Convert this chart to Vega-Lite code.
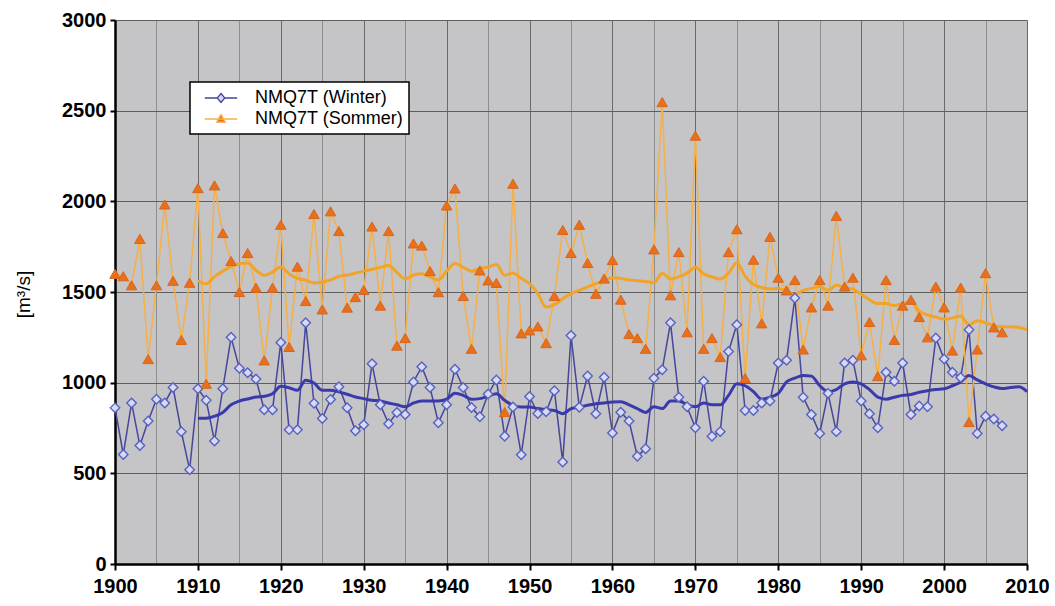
{
"$schema": "https://vega.github.io/schema/vega-lite/v6.json",
"width": 912, "height": 544,
"autosize": {"type": "none"},
"padding": {"left": 115, "top": 20, "right": 28, "bottom": 42},
"background": "white",
"config": {"view": {"fill": "#c5c4c7", "stroke": null}, "font": "Liberation Sans"},
"datasets": {
"obs": [
{"year":1900,"winter":861,"sommer":1600},{"year":1901,"winter":604,"sommer":1587},{"year":1902,"winter":888,"sommer":1537},{"year":1903,"winter":653,"sommer":1793},{"year":1904,"winter":789,"sommer":1130},{"year":1905,"winter":909,"sommer":1537},{"year":1906,"winter":888,"sommer":1983},{"year":1907,"winter":973,"sommer":1562},{"year":1908,"winter":730,"sommer":1236},{"year":1909,"winter":520,"sommer":1551},
{"year":1910,"winter":966,"sommer":2073},{"year":1911,"winter":903,"sommer":994},{"year":1912,"winter":678,"sommer":2088},{"year":1913,"winter":966,"sommer":1825},{"year":1914,"winter":1250,"sommer":1671},{"year":1915,"winter":1080,"sommer":1500},{"year":1916,"winter":1055,"sommer":1715},{"year":1917,"winter":1020,"sommer":1524},{"year":1918,"winter":851,"sommer":1123},{"year":1919,"winter":851,"sommer":1524},
{"year":1920,"winter":1222,"sommer":1871},{"year":1921,"winter":741,"sommer":1197},{"year":1922,"winter":741,"sommer":1640},{"year":1923,"winter":1330,"sommer":1450},{"year":1924,"winter":886,"sommer":1930},{"year":1925,"winter":802,"sommer":1404},{"year":1926,"winter":907,"sommer":1945},{"year":1927,"winter":978,"sommer":1836},{"year":1928,"winter":862,"sommer":1414},{"year":1929,"winter":735,"sommer":1472},
{"year":1930,"winter":768,"sommer":1511},{"year":1931,"winter":1104,"sommer":1861},{"year":1932,"winter":878,"sommer":1425},{"year":1933,"winter":773,"sommer":1836},{"year":1934,"winter":836,"sommer":1204},{"year":1935,"winter":825,"sommer":1246},{"year":1936,"winter":1004,"sommer":1768},{"year":1937,"winter":1088,"sommer":1756},{"year":1938,"winter":973,"sommer":1615},{"year":1939,"winter":779,"sommer":1499},
{"year":1940,"winter":878,"sommer":1977},{"year":1941,"winter":1074,"sommer":2071},{"year":1942,"winter":973,"sommer":1478},{"year":1943,"winter":863,"sommer":1187},{"year":1944,"winter":812,"sommer":1619},{"year":1945,"winter":937,"sommer":1564},{"year":1946,"winter":1015,"sommer":1550},{"year":1947,"winter":705,"sommer":838},{"year":1948,"winter":866,"sommer":2097},{"year":1949,"winter":603,"sommer":1272},
{"year":1950,"winter":924,"sommer":1288},{"year":1951,"winter":830,"sommer":1310},{"year":1952,"winter":840,"sommer":1218},{"year":1953,"winter":956,"sommer":1478},{"year":1954,"winter":562,"sommer":1842},{"year":1955,"winter":1260,"sommer":1715},{"year":1956,"winter":864,"sommer":1871},{"year":1957,"winter":1037,"sommer":1660},{"year":1958,"winter":829,"sommer":1490},{"year":1959,"winter":1030,"sommer":1574},
{"year":1960,"winter":723,"sommer":1676},{"year":1961,"winter":837,"sommer":1458},{"year":1962,"winter":789,"sommer":1268},{"year":1963,"winter":594,"sommer":1246},{"year":1964,"winter":636,"sommer":1187},{"year":1965,"winter":1025,"sommer":1735},{"year":1966,"winter":1071,"sommer":2547},{"year":1967,"winter":1330,"sommer":1482},{"year":1968,"winter":920,"sommer":1720},{"year":1969,"winter":867,"sommer":1278},
{"year":1970,"winter":751,"sommer":2362},{"year":1971,"winter":1008,"sommer":1187},{"year":1972,"winter":705,"sommer":1246},{"year":1973,"winter":730,"sommer":1141},{"year":1974,"winter":1172,"sommer":1720},{"year":1975,"winter":1320,"sommer":1846},{"year":1976,"winter":846,"sommer":1025},{"year":1977,"winter":846,"sommer":1678},{"year":1978,"winter":888,"sommer":1327},{"year":1979,"winter":899,"sommer":1804},
{"year":1980,"winter":1109,"sommer":1579},{"year":1981,"winter":1124,"sommer":1509},{"year":1982,"winter":1467,"sommer":1566},{"year":1983,"winter":920,"sommer":1183},{"year":1984,"winter":825,"sommer":1415},{"year":1985,"winter":720,"sommer":1566},{"year":1986,"winter":941,"sommer":1425},{"year":1987,"winter":730,"sommer":1920},{"year":1988,"winter":1109,"sommer":1530},{"year":1989,"winter":1124,"sommer":1579},
{"year":1990,"winter":899,"sommer":1151},{"year":1991,"winter":829,"sommer":1335},{"year":1992,"winter":751,"sommer":1036},{"year":1993,"winter":1057,"sommer":1566},{"year":1994,"winter":1008,"sommer":1236},{"year":1995,"winter":1109,"sommer":1425},{"year":1996,"winter":825,"sommer":1457},{"year":1997,"winter":871,"sommer":1362},{"year":1998,"winter":867,"sommer":1250},{"year":1999,"winter":1246,"sommer":1530},
{"year":2000,"winter":1130,"sommer":1415},{"year":2001,"winter":1057,"sommer":1177},{"year":2002,"winter":1029,"sommer":1524},{"year":2003,"winter":1292,"sommer":783},{"year":2004,"winter":720,"sommer":1183},{"year":2005,"winter":815,"sommer":1604},{"year":2006,"winter":800,"sommer":1305},{"year":2007,"winter":762,"sommer":1278}
],
"trend": [
{"year":1910,"winter":804,"sommer":1562},{"year":1911,"winter":804,"sommer":1545},{"year":1912,"winter":815,"sommer":1585},{"year":1913,"winter":836,"sommer":1615},{"year":1914,"winter":878,"sommer":1640},{"year":1915,"winter":899,"sommer":1656},{"year":1916,"winter":910,"sommer":1660},{"year":1917,"winter":921,"sommer":1620},{"year":1918,"winter":925,"sommer":1592},{"year":1919,"winter":939,"sommer":1610},
{"year":1920,"winter":980,"sommer":1638},{"year":1921,"winter":972,"sommer":1600},{"year":1922,"winter":958,"sommer":1575},{"year":1923,"winter":1013,"sommer":1565},{"year":1924,"winter":998,"sommer":1550},{"year":1925,"winter":958,"sommer":1555},{"year":1926,"winter":958,"sommer":1566},{"year":1927,"winter":949,"sommer":1587},{"year":1928,"winter":936,"sommer":1594},{"year":1929,"winter":921,"sommer":1604},
{"year":1930,"winter":912,"sommer":1615},{"year":1931,"winter":903,"sommer":1625},{"year":1932,"winter":899,"sommer":1636},{"year":1933,"winter":888,"sommer":1646},{"year":1934,"winter":878,"sommer":1608},{"year":1935,"winter":867,"sommer":1572},{"year":1936,"winter":888,"sommer":1594},{"year":1937,"winter":899,"sommer":1600},{"year":1938,"winter":899,"sommer":1583},{"year":1939,"winter":899,"sommer":1566},
{"year":1940,"winter":909,"sommer":1615},{"year":1941,"winter":941,"sommer":1657},{"year":1942,"winter":930,"sommer":1636},{"year":1943,"winter":909,"sommer":1615},{"year":1944,"winter":912,"sommer":1629},{"year":1945,"winter":925,"sommer":1638},{"year":1946,"winter":939,"sommer":1652},{"year":1947,"winter":903,"sommer":1592},{"year":1948,"winter":875,"sommer":1605},{"year":1949,"winter":866,"sommer":1574},
{"year":1950,"winter":866,"sommer":1546},{"year":1951,"winter":857,"sommer":1491},{"year":1952,"winter":851,"sommer":1417},{"year":1953,"winter":847,"sommer":1430},{"year":1954,"winter":829,"sommer":1463},{"year":1955,"winter":857,"sommer":1491},{"year":1956,"winter":866,"sommer":1509},{"year":1957,"winter":875,"sommer":1528},{"year":1958,"winter":884,"sommer":1546},{"year":1959,"winter":888,"sommer":1564},
{"year":1960,"winter":893,"sommer":1579},{"year":1961,"winter":895,"sommer":1574},{"year":1962,"winter":878,"sommer":1566},{"year":1963,"winter":857,"sommer":1562},{"year":1964,"winter":836,"sommer":1558},{"year":1965,"winter":867,"sommer":1551},{"year":1966,"winter":857,"sommer":1604},{"year":1967,"winter":899,"sommer":1572},{"year":1968,"winter":899,"sommer":1583},{"year":1969,"winter":878,"sommer":1604},
{"year":1970,"winter":867,"sommer":1636},{"year":1971,"winter":888,"sommer":1600},{"year":1972,"winter":878,"sommer":1583},{"year":1973,"winter":878,"sommer":1572},{"year":1974,"winter":930,"sommer":1604},{"year":1975,"winter":994,"sommer":1661},{"year":1976,"winter":983,"sommer":1587},{"year":1977,"winter":951,"sommer":1541},{"year":1978,"winter":909,"sommer":1525},{"year":1979,"winter":920,"sommer":1516},
{"year":1980,"winter":941,"sommer":1520},{"year":1981,"winter":1004,"sommer":1503},{"year":1982,"winter":1025,"sommer":1488},{"year":1983,"winter":1040,"sommer":1509},{"year":1984,"winter":1036,"sommer":1520},{"year":1985,"winter":983,"sommer":1530},{"year":1986,"winter":951,"sommer":1509},{"year":1987,"winter":962,"sommer":1537},{"year":1988,"winter":994,"sommer":1524},{"year":1989,"winter":1004,"sommer":1516},
{"year":1990,"winter":994,"sommer":1488},{"year":1991,"winter":962,"sommer":1457},{"year":1992,"winter":920,"sommer":1436},{"year":1993,"winter":909,"sommer":1436},{"year":1994,"winter":920,"sommer":1425},{"year":1995,"winter":930,"sommer":1436},{"year":1996,"winter":935,"sommer":1446},{"year":1997,"winter":947,"sommer":1394},{"year":1998,"winter":956,"sommer":1373},{"year":1999,"winter":962,"sommer":1362},
{"year":2000,"winter":966,"sommer":1351},{"year":2001,"winter":983,"sommer":1356},{"year":2002,"winter":1004,"sommer":1367},{"year":2003,"winter":1040,"sommer":1320},{"year":2004,"winter":1015,"sommer":1341},{"year":2005,"winter":994,"sommer":1330},{"year":2006,"winter":977,"sommer":1314},{"year":2007,"winter":968,"sommer":1309},{"year":2008,"winter":973,"sommer":1309},{"year":2009,"winter":977,"sommer":1305},{"year":2010,"winter":951,"sommer":1292}
]
},
"encoding": {
  "x": {"field": "year", "type": "quantitative",
    "scale": {"domain": [1900, 2010], "nice": false, "zero": false},
    "axis": {"title": null, "values": [1900,1905,1910,1915,1920,1925,1930,1935,1940,1945,1950,1955,1960,1965,1970,1975,1980,1985,1990,1995,2000,2005,2010],
      "format": "d", "labelExpr": "datum.value % 10 === 0 ? datum.label : ''",
      "labelFont": "Liberation Sans", "labelFontWeight": "bold", "labelFontSize": 20, "labelColor": "black", "labelPadding": 6, "labelFlush": false, "labelOverlap": false,
      "tickColor": "black", "tickWidth": 2, "tickSize": 6,
      "tickOpacity": {"condition": {"test": "datum.value % 10 === 0", "value": 1}, "value": 0},
      "domainColor": "black", "domainWidth": 2.5,
      "grid": true, "gridWidth": 1,
      "gridColor": {"condition": {"test": "datum.value % 10 === 0", "value": "#6a6a6a"}, "value": "#8e8e8e"}}}
},
"layer": [
  {"data": {"name": "obs"}, "mark": {"type": "line", "strokeWidth": 1.5},
   "encoding": {
     "y": {"field": "winter", "type": "quantitative",
       "scale": {"domain": [0, 3000], "nice": false},
       "axis": {"values": [0,500,1000,1500,2000,2500,3000], "format": "d",
         "title": "[m³/s]", "titleFont": "Liberation Sans", "titleFontWeight": "normal", "titleFontSize": 19, "titleColor": "black",
         "titleX": -92, "titleY": 274, "titleAngle": -90, "titleAlign": "center", "titleBaseline": "middle",
         "labelFont": "Liberation Sans", "labelFontWeight": "bold", "labelFontSize": 20, "labelColor": "black", "labelPadding": 4,
         "tickColor": "black", "tickWidth": 2, "tickSize": 5,
         "domainColor": "black", "domainWidth": 2.5,
         "grid": true, "gridColor": "#5e5e5e", "gridWidth": 1}},
     "color": {"datum": "NMQ7T (Winter)", "type": "nominal",
       "scale": {"domain": ["NMQ7T (Winter)", "NMQ7T (Sommer)"], "range": ["#46469c", "#f5b048"]},
       "legend": {"title": null, "orient": "none", "legendX": 75, "legendY": 62,
         "fillColor": "white", "strokeColor": "black", "padding": 6,
         "labelFont": "Liberation Sans", "labelFontSize": 18, "labelColor": "black", "labelLimit": 300,
         "symbolSize": 324, "labelOffset": 24, "symbolOffset": 15, "rowPadding": 2, "symbolStrokeWidth": 1.3,
         "encode": {
           "legend": {"update": {"strokeWidth": {"value": 1.5}}},
           "symbols": {"update": {
           "shape": {"signal": "datum.value == 'NMQ7T (Winter)' ? 'M-1.8,0H-0.45M0.45,0H1.8M0,-0.5L0.42,0L0,0.5L-0.42,0Z' : 'M-1.8,0H1.8M0,-0.5L0.48,0.35L-0.48,0.35Z'"},
           "fill": {"signal": "datum.value == 'NMQ7T (Winter)' ? '#d4daf8' : '#e8701c'"},
           "stroke": {"signal": "datum.value == 'NMQ7T (Winter)' ? '#5a62bc' : '#f2a43a'"},
           "strokeWidth": {"value": 1.3}, "opacity": {"value": 1}}}}}}
   }},
  {"data": {"name": "obs"}, "mark": {"type": "line", "strokeWidth": 1.5},
   "encoding": {"y": {"field": "sommer", "type": "quantitative"}, "color": {"datum": "NMQ7T (Sommer)", "type": "nominal"}}},
  {"data": {"name": "trend"}, "mark": {"type": "line", "strokeWidth": 3, "color": "#3a3aac", "interpolate": "monotone"},
   "encoding": {"y": {"field": "winter", "type": "quantitative"}}},
  {"data": {"name": "trend"}, "mark": {"type": "line", "strokeWidth": 3, "color": "#f2a428", "interpolate": "monotone"},
   "encoding": {"y": {"field": "sommer", "type": "quantitative"}}},
  {"data": {"name": "obs"}, "mark": {"type": "point", "shape": "diamond", "filled": true, "fill": "#d4daf8", "stroke": "#5a62bc", "strokeWidth": 1.4, "size": 90, "opacity": 1},
   "encoding": {"y": {"field": "winter", "type": "quantitative"}}},
  {"data": {"name": "obs"}, "mark": {"type": "point", "shape": "triangle-up", "filled": true, "fill": "#e8701c", "stroke": "#d9651a", "strokeWidth": 1, "size": 110, "opacity": 1},
   "encoding": {"y": {"field": "sommer", "type": "quantitative"}}}
]
}
